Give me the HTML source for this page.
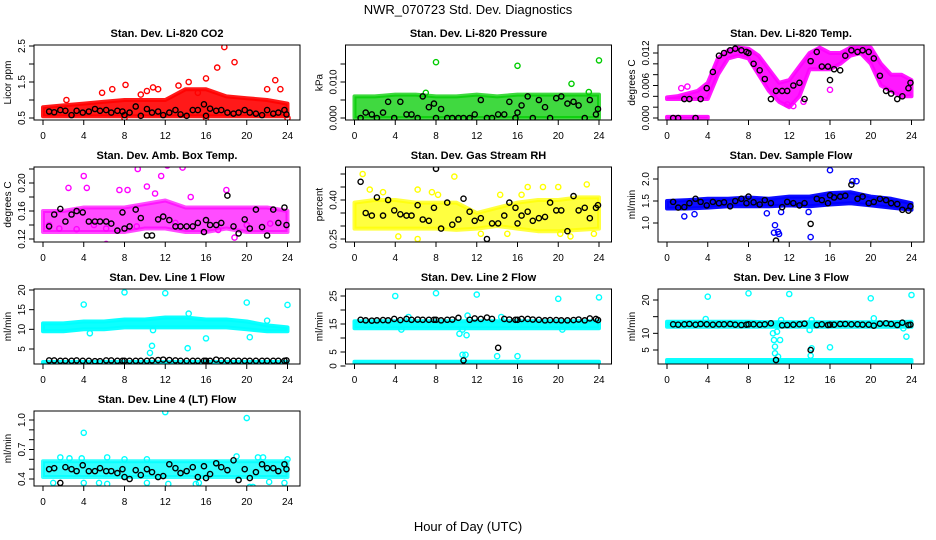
<!DOCTYPE html>
<html><head><meta charset="utf-8"><style>
html,body{margin:0;padding:0;background:#fff}
svg{display:block;font-family:"Liberation Sans",sans-serif}
</style></head><body>
<svg id="c" width="936" height="540" viewBox="0 0 936 540">
<text x="468" y="14" text-anchor="middle" font-size="13">NWR_070723 Std. Dev. Diagnostics</text>
<text x="468" y="531" text-anchor="middle" font-size="13">Hour of Day (UTC)</text>
</svg>
<script>
const blackHours=[0.6,1.1,1.7,2.2,2.8,3.3,3.9,4.5,5.1,5.6,6.2,6.7,7.3,7.8,8.0,8.5,9.1,9.6,10.2,10.7,11.3,11.8,12.4,13.0,13.5,14.1,14.7,15.2,15.8,16.0,16.4,17.0,17.5,18.1,18.7,19.2,19.8,20.3,20.9,21.5,22.0,22.6,23.1,23.7,23.9];
const xTicks=[0,4,8,12,16,20,24];
const bandHours2=[0,2,4,6,8,10,12,14,16,18,20,22,24];
const bandHours1=[0,1,2,3,4,5,6,7,8,9,10,11,12,13,14,15,16,17,18,19,20,21,22,23,24];

// Panel 1: CO2
const co2Low=[0.55,0.55,0.55,0.55,0.55,0.55,0.55,0.55,0.55,0.55,0.55,0.55,0.55];
const co2High=[0.8,0.85,0.9,0.95,1.0,1.0,1.0,1.3,1.3,1.1,1.05,1.0,0.9];
const co2Out=[[2.3,1.0],[5.8,1.2],[6.8,1.3],[8.1,1.42],[10.2,1.25],[10.8,1.35],[11.3,1.3],[13.3,1.4],[14.3,1.5],[16,1.6],[17.1,1.9],[17.8,2.47],[18.8,2.05],[22.8,1.55],[22,1.3],[23.3,1.3],[8,0.5],[24,0.5],[16,0.5],[9.6,1.15],[15.2,1.2]];
const co2Black=[0.68,0.66,0.72,0.70,0.58,0.70,0.65,0.68,0.75,0.70,0.72,0.65,0.70,0.68,0.58,0.65,0.82,0.56,0.75,0.65,0.68,0.58,0.65,0.72,0.60,0.56,0.72,0.72,0.88,0.56,0.76,0.70,0.72,0.65,0.62,0.65,0.72,0.65,0.62,0.58,0.72,0.62,0.65,0.72,0.60];
const co2Ticks=[0.5,1.0,1.5,2.0,2.5];
const co2Labels=["0.5","","1.5","","2.5"];

// Panel 2: Pressure
const prLow=[0,0,0,0,0,0,0,0,0,0,0,0,0];
const prHigh=[0.006,0.006,0.0065,0.0065,0.006,0.006,0.0065,0.006,0.0065,0.0065,0.0065,0.0065,0.0065];
const prOut=[[8,0.0155],[16,0.0145],[21.3,0.0095],[24,0.016],[7,0.007],[23,0.0072]];
const prBlack=[0,0.0015,0.001,0,0.0015,0.0045,0,0.0045,0.001,0.001,0,0.006,0.003,0.004,0,0.0025,0,0,0,0,0,0.001,0.005,0,0,0.001,0.001,0.0045,0,0.0015,0.0035,0.006,0,0.005,0.003,0,0.0055,0.006,0.004,0.0045,0.0035,0,0.005,0.001,0.0025];
const prTicks=[0,0.005,0.01,0.015];
const prLabels=["0.000","","0.010",""];

// Panel 3: Li-820 Temp
const tpLow=[0.0035,0.0035,0.0035,0.0035,0.0035,0.008,0.011,0.0115,0.011,0.008,0.005,0.003,0.002,0.004,0.009,0.009,0.009,0.01,0.0115,0.012,0.01,0.006,0.005,0.004,0.004];
const tpHigh=[0.0038,0.004,0.0045,0.005,0.0065,0.011,0.0125,0.013,0.0128,0.0115,0.009,0.0065,0.007,0.0095,0.012,0.013,0.012,0.012,0.013,0.013,0.013,0.01,0.008,0.008,0.007];
const tpZeroHours=[0,4];
const tpZeroLow=[0,0];
const tpZeroHigh=[0.0002,0.0002];
const tpOut=[[2,0.0058],[1.4,0.0055],[16,0.0052],[12.4,0.0022],[11.8,0.0025],[13.4,0.0030]];
const tpBlack=[0,0,0.0035,0.0035,0,0.0035,0.0055,0.0085,0.0115,0.012,0.0125,0.0128,0.0125,0.0122,0.012,0.0100,0.0088,0.0072,0.0035,0.0050,0.0050,0.0050,0.006,0.0065,0.0035,0.0105,0.0122,0.0095,0.0095,0.007,0.009,0.0088,0.0115,0.0125,0.0122,0.0125,0.0122,0.011,0.0078,0.005,0.0045,0.0035,0.004,0.0055,0.0065];
const tpTicks=[0,0.002,0.004,0.006,0.008,0.010,0.012];
const tpLabels=["0.000","","","0.006","","","0.012"];

// Panel 4: Amb Box Temp
const abLow=[0.13,0.13,0.13,0.13,0.13,0.135,0.135,0.13,0.13,0.135,0.13,0.13,0.13];
const abHigh=[0.16,0.16,0.165,0.165,0.165,0.17,0.175,0.165,0.165,0.165,0.165,0.165,0.16];
const abOut=[[2.5,0.193],[4,0.21],[4.3,0.193],[9.3,0.22],[10.2,0.195],[10.8,0.23],[11.6,0.21],[12.2,0.225],[13.7,0.222],[16.7,0.232],[6.2,0.113],[5,0.14],[6.2,0.135],[3.3,0.134],[1.6,0.135],[18.8,0.122],[17.2,0.133],[22.3,0.142],[7.5,0.19],[8.3,0.19],[0.6,0.14],[9.2,0.138],[18,0.19],[13,0.143],[20,0.14],[14.5,0.18],[11,0.185]];
const abBlack=[0.138,0.155,0.163,0.145,0.155,0.16,0.158,0.145,0.145,0.145,0.145,0.142,0.132,0.158,0.135,0.138,0.162,0.15,0.125,0.125,0.148,0.152,0.147,0.138,0.138,0.138,0.138,0.143,0.13,0.147,0.14,0.14,0.143,0.182,0.138,0.128,0.148,0.135,0.162,0.137,0.125,0.162,0.143,0.165,0.14];
const abTicks=[0.12,0.14,0.16,0.18,0.20,0.22];
const abLabels=["0.12","","0.16","","0.20",""];

// Panel 5: Gas Stream RH
const rhLow=[0.29,0.29,0.29,0.29,0.29,0.285,0.29,0.3,0.29,0.28,0.28,0.285,0.29];
const rhHigh=[0.39,0.40,0.40,0.39,0.39,0.39,0.35,0.37,0.39,0.40,0.40,0.41,0.41];
const rhOut=[[0.8,0.5],[1.5,0.44],[2.8,0.43],[6.2,0.44],[7.6,0.43],[9.8,0.49],[12.4,0.27],[6.2,0.25],[14.3,0.42],[16.4,0.42],[17,0.45],[18.5,0.45],[20,0.45],[22.8,0.46],[23.5,0.27],[20.2,0.27],[21.2,0.26],[15,0.27],[4.3,0.26],[8.2,0.42]];
const rhBlack=[0.47,0.35,0.34,0.41,0.34,0.40,0.36,0.345,0.34,0.34,0.38,0.325,0.32,0.37,0.52,0.29,0.39,0.305,0.325,0.405,0.355,0.32,0.33,0.25,0.31,0.31,0.34,0.39,0.37,0.31,0.34,0.355,0.32,0.33,0.335,0.39,0.36,0.36,0.28,0.415,0.36,0.37,0.33,0.37,0.38];
const rhTicks=[0.25,0.30,0.35,0.40,0.45,0.50];
const rhLabels=["0.25","","","0.40","",""];

// Panel 6: Sample Flow
const sfLow=[1.33,1.33,1.35,1.38,1.38,1.38,1.4,1.38,1.42,1.45,1.4,1.35,1.3];
const sfHigh=[1.5,1.52,1.55,1.55,1.58,1.55,1.6,1.6,1.68,1.7,1.6,1.55,1.45];
const sfOut=[[10.5,0.78],[10.6,0.95],[10.9,0.8],[11,0.75],[14.1,0.68],[16,2.2],[18.2,1.95],[18.6,1.95],[1.7,1.15],[2.7,1.2],[13.9,1.25],[11.2,1.25],[9.8,1.22]];
const sfBlack=[1.48,1.35,1.36,1.45,1.55,1.48,1.4,1.48,1.45,1.47,1.38,1.5,1.55,1.45,1.6,1.47,1.42,1.52,1.45,0.6,1.36,1.48,1.45,1.4,1.45,0.98,1.55,1.52,1.45,1.63,1.58,1.6,1.62,1.87,1.55,1.6,1.45,1.48,1.55,1.52,1.45,1.43,1.3,1.28,1.38];
const sfTicks=[1.0,1.5,2.0];
const sfLabels=["1.0","1.5","2.0"];

// Panel 7: Line 1 Flow
const l1Low=[9.5,9.5,10,10,10.5,10.5,10.5,10.5,10.5,10.5,10,9.5,9.5];
const l1High=[11.5,11.5,12,12,12.5,12.5,13,13,12.5,12.5,12,11,10.5];
const l1BaseLow=[1.0,1.0,1.0,1.0,1.0,1.0,1.0,1.0,1.0,1.0,1.0,1.0,1.0];
const l1BaseHigh=[1.7,1.7,1.7,1.7,1.7,1.7,1.7,1.7,1.7,1.7,1.7,1.7,1.7];
const l1Out=[[4,16.3],[8,19.4],[12,19.2],[20,16.8],[24,16.2],[10.5,4],[10.7,5.8],[14.2,5.2],[14.3,14],[16,7.7],[20.3,8],[4.6,9],[22,12.2],[10.8,9.8]];
const l1Black=[2.1,2.1,2.0,2.0,2.0,2.1,2.0,2.0,1.9,1.9,2.1,2.1,2.0,2.0,2.0,2.0,2.0,2.0,2.0,2.1,2.2,2.3,2.2,2.1,2.0,2.0,2.0,2.0,2.0,2.0,2.0,2.3,2.1,2.1,2.0,2.0,2.0,2.0,2.0,2.0,2.0,2.0,2.0,2.0,2.1];
const l1Ticks=[5,10,15,20];
const l1Labels=["5","10","15","20"];

// Panel 8: Line 2 Flow
const l2Low=[13.5,13.5,13.5,13.5,13.5,13.5,13.5,13.5,13.5,13.5,13.5,13.5,13.5];
const l2High=[16,16,16,16,16,16,16,16,16,16,16,16,16];
const l2BaseLow=[0.3,0.3,0.3,0.3,0.3,0.3,0.3,0.3,0.3,0.3,0.3,0.3,0.3];
const l2BaseHigh=[1.5,1.5,1.5,1.5,1.5,1.5,1.5,1.5,1.5,1.5,1.5,1.5,1.5];
const l2Out=[[4,25],[8,26],[12,25.5],[20,24],[24,24.5],[10.3,11.5],[10.6,13],[11,11],[11.1,18],[10.6,4],[10.9,4],[14,3.5],[16,3.5],[4.6,13],[20.4,13],[5.3,17.5],[14.4,17.5]];
const l2Black=[16.5,16.3,16.2,16.3,16.4,16.3,16.8,16.4,16.8,16.5,16.6,16.5,16.5,16.5,16.5,16.3,16.5,16.6,17.2,2.0,16.5,17.0,16.8,17.3,16.8,6.5,16.8,16.6,16.5,16.5,16.8,16.8,16.6,16.5,16.3,16.4,16.4,16.3,16.3,16.4,16.6,16.3,17.0,16.8,16.4];
const l2Ticks=[0,5,10,15,20,25];
const l2Labels=["0","5","","15","","25"];

// Panel 9: Line 3 Flow
const l3Low=[12,12,12,12,12,12,12,12,12,12,12,12,12];
const l3High=[13.5,13.5,13.5,13.5,13.5,13.3,13.3,13.3,13.3,13.3,13.3,13.3,13.5];
const l3BaseLow=[1.0,1.0,1.0,1.0,1.0,1.0,1.0,1.0,1.0,1.0,1.0,1.0,1.0];
const l3BaseHigh=[2.0,2.0,2.0,2.0,2.0,2.0,2.0,2.0,2.0,2.0,2.0,2.0,2.0];
const l3Out=[[4,21],[8,22],[12,21.8],[20,20.5],[24,21.5],[10.4,10],[10.5,8],[10.6,6],[10.6,4],[10.9,3],[10.8,10.5],[11.1,8],[11.2,14],[3.8,14.3],[14.2,14],[14,11],[14.1,3.3],[14.2,5.5],[16,5.8],[20.3,14.5],[23.5,9],[23.2,11.5]];
const l3Black=[12.7,12.6,12.7,12.8,12.6,12.8,12.7,12.6,12.7,12.7,12.8,12.6,12.5,12.6,12.7,12.7,12.6,12.7,13.0,2.0,12.4,12.5,12.6,12.7,12.9,5.0,12.5,12.7,12.5,12.6,12.6,12.8,12.8,12.7,12.7,12.6,12.6,12.3,12.9,13.0,12.8,12.5,13.2,12.5,12.6];
const l3Ticks=[5,10,15,20];
const l3Labels=["5","10","","20"];

// Panel 10: Line 4 (LT) Flow
const l4Low=[0.42,0.42,0.42,0.42,0.42,0.42,0.42,0.42,0.42,0.42,0.42,0.42,0.42];
const l4High=[0.58,0.58,0.58,0.58,0.58,0.58,0.58,0.58,0.58,0.58,0.58,0.58,0.58];
const l4Out=[[4,0.87],[12,1.08],[20,1.02],[1,0.36],[4,0.36],[5.5,0.36],[6.3,0.35],[10.2,0.36],[12.3,0.35],[15,0.35],[15.3,0.36],[20.3,0.32],[20.6,0.32],[22.2,0.37],[23.7,0.36],[1.7,0.62],[2.6,0.61],[3.8,0.61],[6.3,0.62],[8,0.6],[10.2,0.6],[19,0.63],[21.1,0.62],[21.6,0.62],[24,0.6]];
const l4Black=[0.5,0.51,0.36,0.52,0.5,0.48,0.54,0.48,0.48,0.51,0.48,0.48,0.46,0.5,0.42,0.4,0.49,0.44,0.5,0.47,0.42,0.43,0.55,0.51,0.46,0.48,0.52,0.42,0.53,0.41,0.45,0.56,0.52,0.49,0.59,0.39,0.5,0.41,0.47,0.55,0.51,0.51,0.48,0.55,0.5];
const l4Ticks=[0.4,0.5,0.6,0.7,0.8,0.9,1.0];
const l4Labels=["0.4","","","0.7","","","1.0"];

const NS="http://www.w3.org/2000/svg";
const svg=document.getElementById('c');
function mk(tag,attrs,parent){const e=document.createElementNS(NS,tag);for(const k in attrs)e.setAttribute(k,attrs[k]);(parent||svg).appendChild(e);return e;}

const colX=[43,354.5,667], rowTop=[45,167,289,411], xW=244.5, boxH=75;
const panels=[
 {slug:'co2',title:'Stan. Dev. Li-820 CO2',ylab:'Licor ppm',col:0,row:0,color:'#ff0000',op:0.9,v0:0.5,y0:118,v1:2.5,y1:46,bands:[[bandHours2,co2Low,co2High]],out:co2Out,black:co2Black,ticks:co2Ticks,labels:co2Labels},
 {slug:'pressure',title:'Stan. Dev. Li-820 Pressure',ylab:'kPa',col:1,row:0,color:'#00cc00',op:0.75,v0:0,y0:118,v1:0.010,y1:82,bands:[[bandHours2,prLow,prHigh]],out:prOut,black:prBlack,ticks:prTicks,labels:prLabels},
 {slug:'li820-temp',title:'Stan. Dev. Li-820 Temp.',ylab:'degrees C',col:2,row:0,color:'#ff00ff',op:0.9,v0:0,y0:118,v1:0.012,y1:53,bands:[[bandHours1,tpLow,tpHigh],[tpZeroHours,tpZeroLow,tpZeroHigh]],out:tpOut,black:tpBlack,ticks:tpTicks,labels:tpLabels},
 {slug:'amb-box-temp',title:'Stan. Dev. Amb. Box Temp.',ylab:'degrees C',col:0,row:1,color:'#ff00ff',op:0.7,v0:0.12,y0:239,v1:0.20,y1:183,bands:[[bandHours2,abLow,abHigh]],out:abOut,black:abBlack,ticks:abTicks,labels:abLabels},
 {slug:'gas-rh',title:'Stan. Dev. Gas Stream RH',ylab:'percent',col:1,row:1,color:'#ffff00',op:0.75,v0:0.25,y0:239,v1:0.40,y1:200,bands:[[bandHours2,rhLow,rhHigh]],out:rhOut,black:rhBlack,ticks:rhTicks,labels:rhLabels},
 {slug:'sample-flow',title:'Stan. Dev. Sample Flow',ylab:'ml/min',col:2,row:1,color:'#0000ff',op:0.95,v0:1.0,y0:223,v1:2.0,y1:179,bands:[[bandHours2,sfLow,sfHigh]],out:sfOut,black:sfBlack,ticks:sfTicks,labels:sfLabels},
 {slug:'line1-flow',title:'Stan. Dev. Line 1 Flow',ylab:'ml/min',col:0,row:2,color:'#00ffff',op:0.95,v0:5,y0:349,v1:20,y1:290,bands:[[bandHours2,l1Low,l1High],[bandHours2,l1BaseLow,l1BaseHigh]],out:l1Out,black:l1Black,ticks:l1Ticks,labels:l1Labels},
 {slug:'line2-flow',title:'Stan. Dev. Line 2 Flow',ylab:'ml/min',col:1,row:2,color:'#00ffff',op:0.95,v0:0,y0:366,v1:25,y1:296,bands:[[bandHours2,l2Low,l2High],[bandHours2,l2BaseLow,l2BaseHigh]],out:l2Out,black:l2Black,ticks:l2Ticks,labels:l2Labels},
 {slug:'line3-flow',title:'Stan. Dev. Line 3 Flow',ylab:'ml/min',col:2,row:2,color:'#00ffff',op:0.95,v0:5,y0:350,v1:20,y1:300,bands:[[bandHours2,l3Low,l3High],[bandHours2,l3BaseLow,l3BaseHigh]],out:l3Out,black:l3Black,ticks:l3Ticks,labels:l3Labels},
 {slug:'line4-flow',title:'Stan. Dev. Line 4 (LT) Flow',ylab:'ml/min',col:0,row:3,color:'#00ffff',op:0.8,v0:0.4,y0:479,v1:1.0,y1:420,bands:[[bandHours2,l4Low,l4High]],out:l4Out,black:l4Black,ticks:l4Ticks,labels:l4Labels}
];

panels.forEach(p=>{
 const x0=colX[p.col], top=rowTop[p.row], bot=top+boxH;
 const bl=x0-9, br=x0+257;
 const xs=h=>x0+h/24*xW;
 const ys=v=>p.y0+(v-p.v0)*(p.y1-p.y0)/(p.v1-p.v0);
 const g=mk('g',{});
 
 
 const clipId='clip-'+p.slug;
 const cp=mk('clipPath',{id:clipId},g); mk('rect',{x:bl,y:top,width:br-bl,height:boxH},cp);
 const plot=mk('g',{'clip-path':'url(#'+clipId+')'},g);
 p.bands.forEach((b,bi)=>{
  const [hs,lo,hi]=b;
  let pts=hs.map((h,i)=>xs(h).toFixed(1)+','+ys(hi[i]).toFixed(1));
  for(let i=hs.length-1;i>=0;i--)pts.push(xs(hs[i]).toFixed(1)+','+ys(lo[i]).toFixed(1));
  const poly=mk('polygon',{points:pts.join(' '),fill:p.color,'fill-opacity':p.op,stroke:p.color,'stroke-opacity':p.op,'stroke-width':4,'stroke-linejoin':'round'},plot);
  
  
 });
 p.out.forEach(o=>{
  const c=mk('circle',{cx:xs(o[0]),cy:ys(o[1]),r:2.6,fill:'none',stroke:p.color,'stroke-width':1.4},plot);
  
  
 });
 const n=Math.min(blackHours.length,p.black.length);
 for(let i=0;i<n;i++){
  const c=mk('circle',{cx:xs(blackHours[i]),cy:ys(p.black[i]),r:2.6,fill:'none',stroke:'#000','stroke-width':1.4},plot);
  
  
 }
 const box=mk('rect',{x:bl,y:top,width:br-bl,height:boxH,fill:'none',stroke:'#000','stroke-width':1},g);
 
 
 const t=mk('text',{x:(bl+br)/2,y:top-8,'text-anchor':'middle','font-size':11,'font-weight':'bold'},g);
 t.textContent=p.title;
 
 
 xTicks.forEach(h=>{
  mk('line',{x1:xs(h),x2:xs(h),y1:bot,y2:bot+5,stroke:'#000'},g);
  const l=mk('text',{x:xs(h),y:bot+19,'text-anchor':'middle','font-size':10},g);
  l.textContent=h;
  
  
 });
 p.ticks.forEach((v,i)=>{
  const y=ys(v);
  mk('line',{x1:bl-5,x2:bl,y1:y,y2:y,stroke:'#000'},g);
  if(p.labels[i]){
   const l=mk('text',{x:bl-9,y:y,'text-anchor':'middle','font-size':10,transform:'rotate(-90 '+(bl-9)+' '+y+')'},g);
   l.textContent=p.labels[i];
   
   
  }
 });
 const yl=mk('text',{x:bl-23,y:(top+bot)/2,'text-anchor':'middle','font-size':10,transform:'rotate(-90 '+(bl-23)+' '+((top+bot)/2)+')'},g);
 yl.textContent=p.ylab;
 
 
});
</script>
</body></html>
